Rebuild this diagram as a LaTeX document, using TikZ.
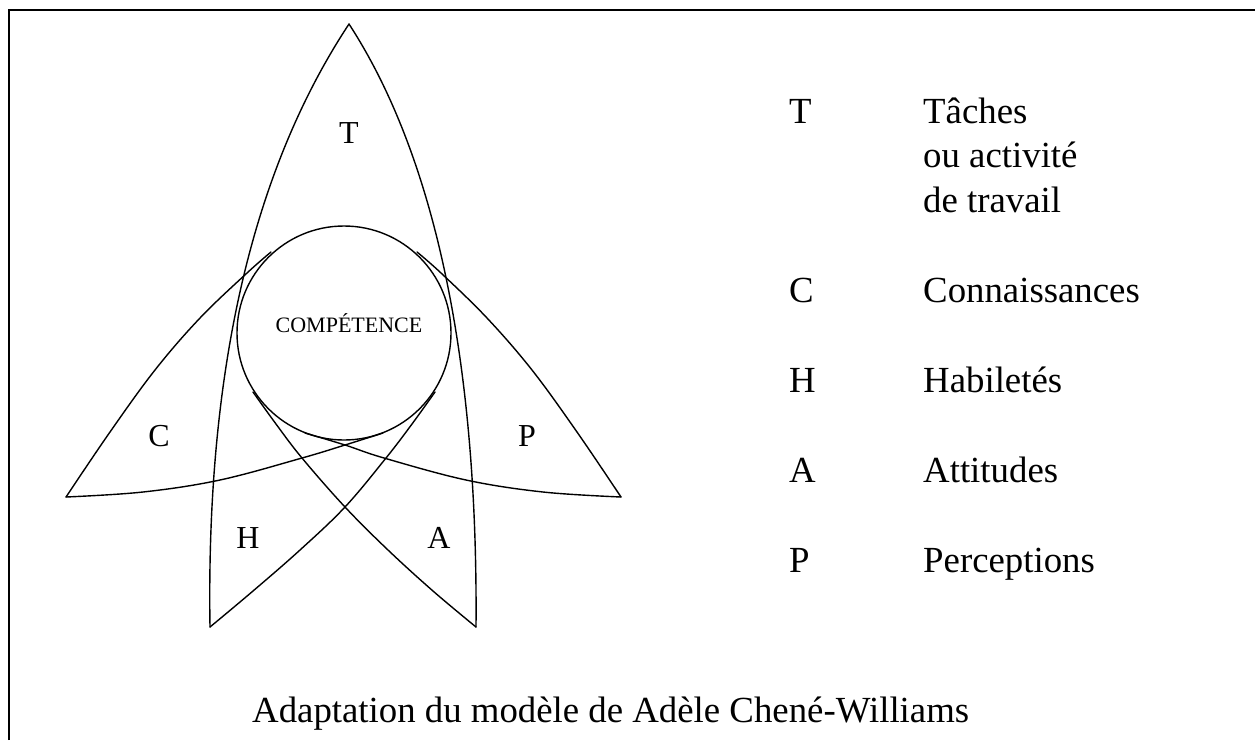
\documentclass[tikz,border=0pt]{standalone}
\usepackage{fontspec}
\setmainfont{Liberation Serif}
\begin{document}
\begin{tikzpicture}[x=1pt,y=-1pt,
  edge/.style={line width=1.4pt, line join=round, line cap=round},
  frame/.style={line width=2pt},
  lbl/.style={font=\fontsize{32}{38}\selectfont, inner sep=0pt},
  core/.style={font=\fontsize{22}{26}\selectfont, inner sep=0pt},
  leg/.style={font=\fontsize{36.8}{44}\selectfont, inner sep=0pt, anchor=base west},
]
\useasboundingbox (0,0) rectangle (1255,740);
% frame
\draw[frame] (9,740) -- (9,10) -- (1255,10);
% central circle
\draw[edge] (344,333) circle[radius=107];
% T petal (its lower parts also bound H and A)
\coordinate (tipT) at (349,24);
\coordinate (tipH) at (210,627);
\coordinate (tipA) at (476,627);
\coordinate (tipC) at (66,497);
\coordinate (tipP) at (621,497);
\draw[edge] (tipH) .. controls (206,377) and (250,174) .. (tipT);
\draw[edge] (tipT) .. controls (440,164) and (478,377) .. (tipA);
% C petal
\draw[edge] plot[smooth, tension=0.6] coordinates {(tipC) (110,432) (155,370) (200,318) (247,273) (271,252)};
\draw[edge] plot[smooth, tension=0.6] coordinates {(tipC) (143,492) (220,480) (302,458) (345,445) (383,433)};
% P petal
\draw[edge] plot[smooth, tension=0.6] coordinates {(tipP) (577,432) (532,370) (487,318) (441,273) (417,252)};
\draw[edge] plot[smooth, tension=0.6] coordinates {(tipP) (543,492) (466,480) (384,458) (345,445) (305,433)};
% H petal right edge
\draw[edge] plot[smooth, tension=0.6] coordinates {(tipH) (253,591) (300,550) (345,507) (386,458) (412,424) (435,392)};
% A petal left edge
\draw[edge] plot[smooth, tension=0.6] coordinates {(tipA) (433,591) (388,550) (345,507) (302,458) (276,424) (253,392)};
% labels
\node[lbl] (lT) at (349,133) {T};
\node[lbl] (lC) at (159,436) {C};
\node[lbl] (lP) at (527,436) {P};
\node[lbl] (lH) at (248,538) {H};
\node[lbl] (lA) at (439,538) {A};
\node[core] (comp) at (349,323) {COMPÉTENCE};
% legend
\node[leg] (kT) at (789,123) {T};
\node[leg] (dT1) at (923,123) {Tâches};
\node[leg] (dT2) at (923,167) {ou activité};
\node[leg] (dT3) at (923,212) {de travail};
\node[leg] (kC) at (789,302) {C};
\node[leg] (dC) at (923,302) {Connaissances};
\node[leg] (kH) at (789,392) {H};
\node[leg] (dH) at (923,392) {Habiletés};
\node[leg] (kA) at (789,482) {A};
\node[leg] (dA) at (923,482) {Attitudes};
\node[leg] (kP) at (789,572) {P};
\node[leg] (dP) at (923,572) {Perceptions};
% caption
\node[leg] (cap) at (252,722) {Adaptation du modèle de Adèle Chené-Williams};
\end{tikzpicture}
\end{document}
